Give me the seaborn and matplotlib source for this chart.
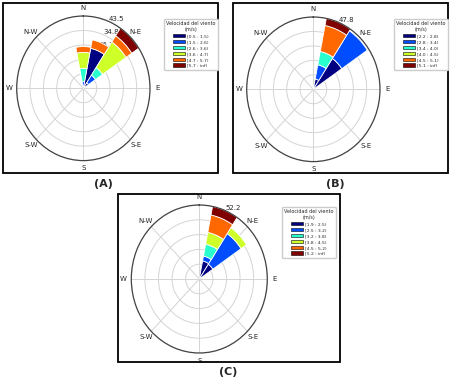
import matplotlib
matplotlib.use('Agg')
import numpy as np
import matplotlib.pyplot as plt
import seaborn as sns
from matplotlib.patches import Patch, Rectangle

sns.set_style("white")
plt.rcParams['font.family'] = ['DejaVu Sans']

# Direcciones (grados desde el norte, sentido horario)
dir_a = [0, 22.5, 45]
dir_b = [0, 22.5, 45]
dir_c = [22.5, 45]

# Frecuencias (%) por rango de velocidad: una fila por rango, una columna por direccion
frec_a = [[1.0, 24.5, 4.0],
          [3.0, 0.0, 5.5],
          [8.0, 0.0, 5.5],
          [9.6, 0.0, 18.5],
          [3.5, 5.2, 4.5],
          [0.0, 0.0, 5.5]]
frec_b = [[0.0, 7.0, 24.5],
          [0.0, 9.5, 22.0],
          [2.5, 9.0, 0.0],
          [0.0, 0.0, 0.0],
          [0.0, 17.5, 0.0],
          [0.0, 4.8, 0.0]]
frec_c = [[13.0, 12.5],
          [3.5, 26.0],
          [8.5, 0.0],
          [8.5, 5.0],
          [12.5, 0.0],
          [6.17, 0.0]]

rangos_a = ['[0.5 : 1.5)', '[1.5 : 2.6)', '[2.6 : 3.6)', '[3.6 : 4.7)', '[4.7 : 5.7)', '[5.7 : inf)']
rangos_b = ['[2.2 : 2.8)', '[2.8 : 3.4)', '[3.4 : 4.0)', '[4.0 : 4.5)', '[4.5 : 5.1)', '[5.1 : inf)']
rangos_c = ['[1.9 : 2.5)', '[2.5 : 3.2)', '[3.2 : 3.8)', '[3.8 : 4.5)', '[4.5 : 5.2)', '[5.2 : inf)']

puntos = ['N', 'N-E', 'E', 'S-E', 'S', 'S-W', 'W', 'N-W']
colores = sns.color_palette(plt.cm.jet(np.linspace(0, 1, 6)))

W, H = 450, 380
fig = plt.figure(figsize=(4.5, 3.8), dpi=100)


def rosa(caja_px, dirs, frec, rangos, leyenda_px):
    x0, y0, x1, y1 = caja_px
    ax = fig.add_axes([x0 / W, 1 - y1 / H, (x1 - x0) / W, (y1 - y0) / H], projection='polar')
    ax.set_theta_zero_location('N')
    ax.set_theta_direction(-1)
    theta = np.deg2rad(dirs)
    base = np.zeros(len(dirs))
    for vals, col in zip(frec, colores):
        vals = np.array(vals, dtype=float)
        m = vals > 0
        ax.bar(theta[m], vals[m], width=np.deg2rad(22.5), bottom=base[m],
               color=col, edgecolor='white', linewidth=0.6, align='center')
        base = base + vals
    rmax = base.max()
    ax.set_ylim(0, rmax)
    radios = np.linspace(0, rmax, 6)[1:]
    ax.set_yticks(radios)
    ax.set_yticklabels(['%.1f' % r for r in radios], fontsize=5)
    ax.set_rlabel_position(22.5)
    ax.set_xticks(np.deg2rad(np.arange(0, 360, 45)))
    ax.set_xticklabels(puntos, fontsize=5)
    ax.tick_params(axis='x', pad=-5)
    ax.grid(True, color='#d4d4d4', linewidth=0.7)
    ax.spines['polar'].set_color('#444444')
    ax.spines['polar'].set_linewidth(0.9)
    ax.set_aspect('auto')

    handles = [Patch(facecolor=c, edgecolor='black', linewidth=0.4, label=r)
               for c, r in zip(colores, rangos)]
    leg = fig.legend(handles=handles, loc='upper left',
                     bbox_to_anchor=(leyenda_px[0] / W, 1 - leyenda_px[1] / H),
                     bbox_transform=fig.transFigure,
                     title='Velocidad del viento\n(m/s)', fontsize=3.2, title_fontsize=3.5,
                     frameon=True, fancybox=True, edgecolor='#cccccc', framealpha=1,
                     handlelength=2.6, handleheight=0.9, labelspacing=0.35,
                     borderpad=0.5, handletextpad=0.6)
    leg.get_title().set_multialignment('center')
    return ax


rosa((16.7, 16, 150, 160.6), dir_a, frec_a, rangos_a, (162, 17))
rosa((246.7, 17, 380, 161.6), dir_b, frec_b, rangos_b, (392, 17))
rosa((131.3, 205, 267.3, 353), dir_c, frec_c, rangos_c, (280, 205))

# Marcos de cada panel
for (x0, y0, x1, y1) in [(3, 3, 218, 173), (233, 3, 448, 173), (118, 194, 340, 362)]:
    fig.add_artist(Rectangle((x0 / W, 1 - y1 / H), (x1 - x0) / W, (y1 - y0) / H,
                             transform=fig.transFigure, fill=False,
                             edgecolor='black', linewidth=1.3))

for txt, x, y in [('(A)', 103, 184), ('(B)', 335, 184), ('(C)', 228, 372)]:
    fig.text(x / W, 1 - y / H, txt, ha='center', va='center', fontsize=8, fontweight='bold')

fig.savefig('out.png', dpi=100)
